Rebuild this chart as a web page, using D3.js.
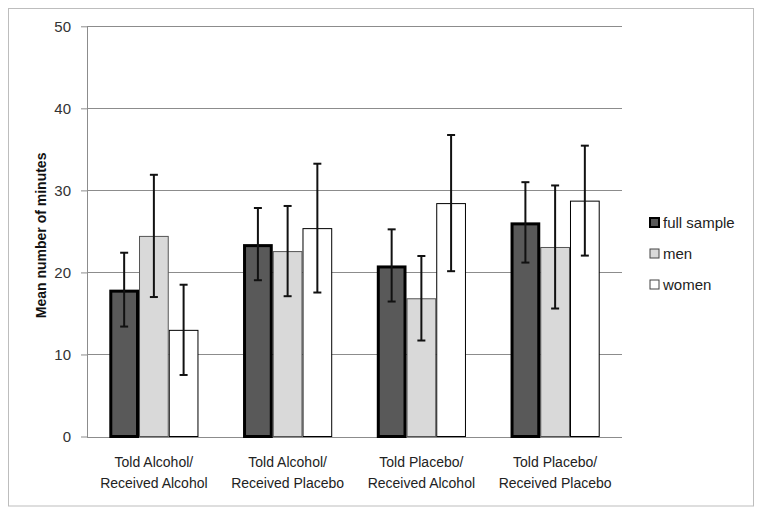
<!DOCTYPE html>
<html><head><meta charset="utf-8">
<script src="https://cdn.jsdelivr.net/npm/d3@7/dist/d3.min.js"></script>
<style>body{margin:0;background:#fff}</style>
</head><body>
<script>
const categories = [["Told Alcohol/","Received Alcohol"],["Told Alcohol/","Received Placebo"],["Told Placebo/","Received Alcohol"],["Told Placebo/","Received Placebo"]];
const seriesNames = ["full sample","men","women"];
const fullSample = [17.9, 23.45, 20.85, 26.1];
const men = [24.45, 22.6, 16.85, 23.1];
const women = [13.0, 25.4, 28.45, 28.75];
const fullSampleErr = [4.5, 4.4, 4.4, 4.9];
const menErr = [7.45, 5.5, 5.15, 7.5];
const womenErr = [5.5, 7.85, 8.3, 6.7];
const yTicks = [0,10,20,30,40,50];

(function(){
const W=762,H=508;
const FONT="Liberation Sans, Arial, sans-serif";
const svg=d3.select("body").append("svg").attr("width",W).attr("height",H);
svg.append("rect").attr("x",8.5).attr("y",8.5).attr("width",745).attr("height",497.5).attr("fill","#fff").attr("stroke","#bdbdbd");

const pL=87, pR=622, pT=26.3, pB=436.5;
const x=d3.scaleBand().domain(d3.range(categories.length)).range([pL,pR]).paddingInner(0.3333).paddingOuter(0.16667);
const xs=d3.scaleBand().domain(d3.range(3)).range([0,x.bandwidth()]);
const y=d3.scaleLinear().domain([0,50]).range([pB,pT]);

svg.append("g").selectAll("line").data(yTicks).join("line")
 .attr("x1",pL).attr("x2",pR).attr("y1",d=>Math.round(y(d))+0.5).attr("y2",d=>Math.round(y(d))+0.5)
 .attr("stroke","#8c8c8c").attr("stroke-width",1);
svg.append("line").attr("x1",pL+0.5).attr("x2",pL+0.5).attr("y1",pT).attr("y2",pB+0.5).attr("stroke","#8c8c8c");

const ya=svg.append("g").attr("transform",`translate(${pL},0)`).call(d3.axisLeft(y).tickValues(yTicks).tickSize(6).tickPadding(10));
ya.select(".domain").remove();
ya.selectAll("line").attr("stroke","#8c8c8c");
ya.selectAll("text").attr("font-family",FONT).attr("font-size",15).attr("fill","#333");

svg.append("text").attr("transform",`translate(46,${(pT+pB)/2 + 4}) rotate(-90)`).attr("text-anchor","middle")
 .attr("font-family",FONT).attr("font-size",14).attr("font-weight","bold").attr("fill","#111").text("Mean number of minutes");

const series=[
 {vals:fullSample,err:fullSampleErr,fill:"#595959",stroke:"#000",sw:3},
 {vals:men,err:menErr,fill:"#d9d9d9",stroke:"#555",sw:1},
 {vals:women,err:womenErr,fill:"#ffffff",stroke:"#000",sw:1}
];
[2,1,0].forEach(si=>{
 const s=series[si];
 svg.append("g").selectAll("rect").data(s.vals).join("rect")
  .attr("x",(d,i)=>x(i)+xs(si)+s.sw/2).attr("width",xs.bandwidth()-s.sw)
  .attr("y",d=>y(d)+s.sw/2).attr("height",d=>pB-y(d)-s.sw/2)
  .attr("fill",s.fill).attr("stroke",s.stroke).attr("stroke-width",s.sw);
});
series.forEach((s,si)=>{
 const g=svg.append("g").attr("stroke","#111").attr("stroke-width",2);
 s.vals.forEach((v,i)=>{
  const cx=x(i)+xs(si)+xs.bandwidth()/2;
  g.append("line").attr("x1",cx).attr("x2",cx).attr("y1",y(v+s.err[i])).attr("y2",y(v-s.err[i]));
  g.append("line").attr("x1",cx-4).attr("x2",cx+4).attr("y1",y(v+s.err[i])).attr("y2",y(v+s.err[i]));
  g.append("line").attr("x1",cx-4).attr("x2",cx+4).attr("y1",y(v-s.err[i])).attr("y2",y(v-s.err[i]));
 });
});

categories.forEach((c,i)=>{
 const t=svg.append("text").attr("text-anchor","middle").attr("font-family",FONT).attr("font-size",14).attr("fill","#222");
 c.forEach((line,j)=>t.append("tspan").attr("x",x(i)+x.bandwidth()/2).attr("y",467+j*21).text(line));
});

const lg=svg.append("g");
seriesNames.forEach((n,i)=>{
 const s=series[i];
 const yy=223+i*31;
 lg.append("rect").attr("x",650).attr("y",yy-5).attr("width",9).attr("height",9)
  .attr("fill",s.fill).attr("stroke",i==0?"#000":"#444").attr("stroke-width",i==0?2:1);
 lg.append("text").attr("x",663).attr("y",yy+5).attr("font-family",FONT).attr("font-size",15).attr("fill","#222").text(n);
});
})();
</script>
</body></html>
